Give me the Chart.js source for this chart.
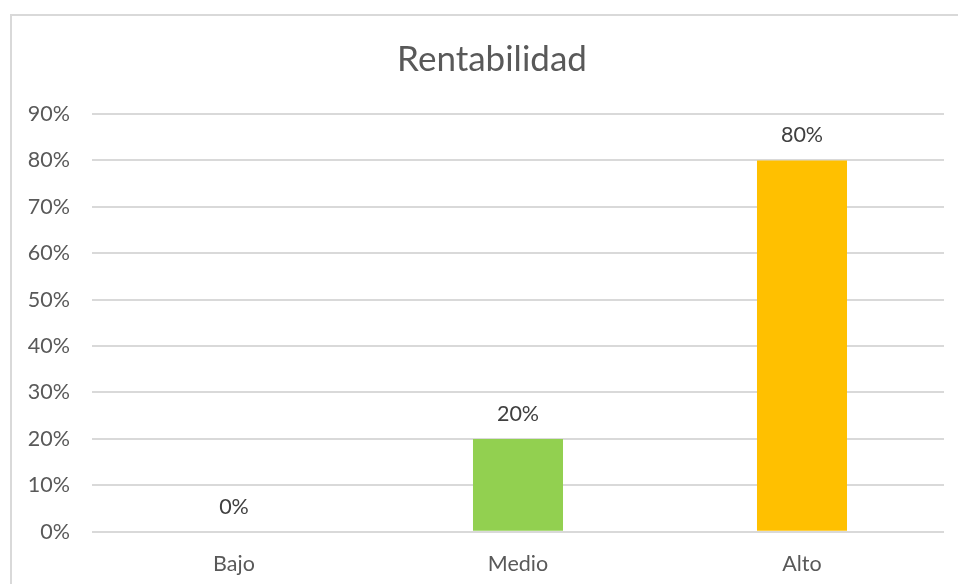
<!DOCTYPE html>
<html>
<head>
<meta charset="utf-8">
<script src="https://cdn.jsdelivr.net/npm/chart.js@4"></script>
<style>
  body { margin: 0; background: #fff; overflow: hidden; }
  #frame { position: absolute; left: 10px; top: 14px; width: 980px; height: 600px; border: 2px solid #d9d9d9; }
  #wrap { position: absolute; left: 0; top: 0; width: 958px; height: 584px; }
</style>
</head>
<body>
<div id="frame"></div>
<div id="wrap"><canvas id="chart" width="958" height="584"></canvas></div>
<script>
  // chart values
  const categories = ['Bajo', 'Medio', 'Alto'];
  const values = [0, 0.2, 0.8];
  const barColors = ['#4472C4', '#92D050', '#FFC000'];
  const chartTitle = 'Rentabilidad';

  const textColor = '#595959';
  const fontFamily = 'Lato, "Open Sans", sans-serif';
  const tickSize = 21.5;

  const pct = v => Math.round(v * 100) + '%';

  // draws the value above each bar
  const valueLabels = {
    id: 'valueLabels',
    afterDatasetsDraw(chart) {
      const ctx = chart.ctx;
      const meta = chart.getDatasetMeta(0);
      ctx.save();
      ctx.font = tickSize + 'px ' + fontFamily;
      ctx.fillStyle = '#404040';
      ctx.textAlign = 'center';
      ctx.textBaseline = 'middle';
      meta.data.forEach((bar, i) => {
        ctx.fillText(pct(values[i]), bar.x, bar.y - 25);
      });
      ctx.restore();
    }
  };

  new Chart(document.getElementById('chart'), {
    type: 'bar',
    data: {
      labels: categories,
      datasets: [{
        data: values,
        backgroundColor: barColors,
        borderWidth: 0,
        categoryPercentage: 1,
        barPercentage: 0.317
      }]
    },
    options: {
      responsive: false,
      animation: false,
      // left padding keeps the title centred on the frame, not the canvas
      layout: { padding: { left: 26, right: 0, top: 0, bottom: 0 } },
      plugins: {
        legend: { display: false },
        tooltip: { enabled: false },
        title: {
          display: true,
          text: chartTitle,
          color: textColor,
          font: { family: fontFamily, size: 35, weight: 'normal', lineHeight: 1.2 },
          padding: { top: 39, bottom: 33 }
        }
      },
      scales: {
        x: {
          afterFit(scale) { scale.height = 52.3; },
          grid: { display: false, drawTicks: false },
          border: { display: false },
          ticks: { color: textColor, font: { family: fontFamily, size: tickSize }, padding: 19 }
        },
        y: {
          min: 0,
          max: 0.9,
          afterFit(scale) { scale.width = 66; },
          grid: { color: '#d9d9d9', lineWidth: 2, drawTicks: false },
          border: { display: false },
          ticks: {
            stepSize: 0.1,
            color: textColor,
            font: { family: fontFamily, size: tickSize },
            padding: 22,
            callback: v => pct(v)
          }
        },
        // empty right axis, only reserves the right margin of the plot
        yRight: {
          position: 'right',
          afterFit(scale) { scale.width = 14; },
          grid: { display: false, drawTicks: false },
          border: { display: false },
          ticks: { display: false }
        }
      }
    },
    plugins: [valueLabels]
  });
</script>
</body>
</html>
